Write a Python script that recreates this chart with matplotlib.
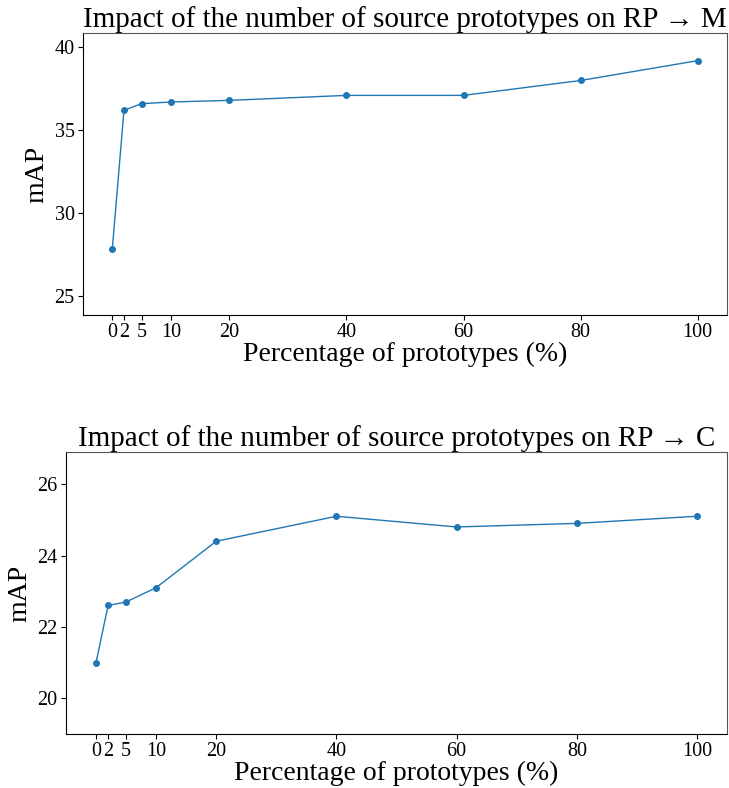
import matplotlib
matplotlib.use("Agg")
import matplotlib.pyplot as plt

plt.rcParams['font.family'] = ['Liberation Serif', 'DejaVu Serif']

pct = [0, 2, 5, 10, 20, 40, 60, 80, 100]
tick_labels = ['0', '2', '5', '10', '20', '40', '60', '80', '100']
map_rp_m = [27.8, 36.2, 36.6, 36.7, 36.8, 37.1, 37.1, 38.0, 39.2]
map_rp_c = [21.0, 22.6, 22.7, 23.1, 24.4, 25.1, 24.8, 24.9, 25.1]

W, H = 729, 788
fig = plt.figure(figsize=(W / 100, H / 100), dpi=100)

def box(l, t, r, b):
    return [l / W, 1 - b / H, (r - l) / W, (b - t) / H]

ax1 = fig.add_axes(box(83, 33, 727, 315))
ax2 = fig.add_axes(box(66, 452, 727, 734))

panels = [
    (ax1, map_rp_m, 'M', (23.83, 40.87), [25, 30, 35, 40]),
    (ax2, map_rp_c, 'C', (19.0, 26.9), [20, 22, 24, 26]),
]

for ax, vals, tgt, ylim, yt in panels:
    ax.plot(pct, vals, marker='o', markersize=4, linewidth=1, color='#1f77b4')
    ax.set_xticks(pct)
    ax.set_xticklabels(tick_labels)
    ax.set_yticks(yt)
    ax.set_ylim(*ylim)
    ax.tick_params(labelsize=14.5, pad=2.5)
    ax.set_title('Impact of the number of source prototypes on RP \u2192 ' + tgt,
                 fontsize=21, pad=4)
    ax.set_xlabel('Percentage of prototypes (%)', fontsize=20, labelpad=0)
    ax.set_ylabel('mAP', fontsize=20)
    for s in ['top', 'right']:
        ax.spines[s].set_color('#555555')

fig.savefig('out.png', dpi=100)
